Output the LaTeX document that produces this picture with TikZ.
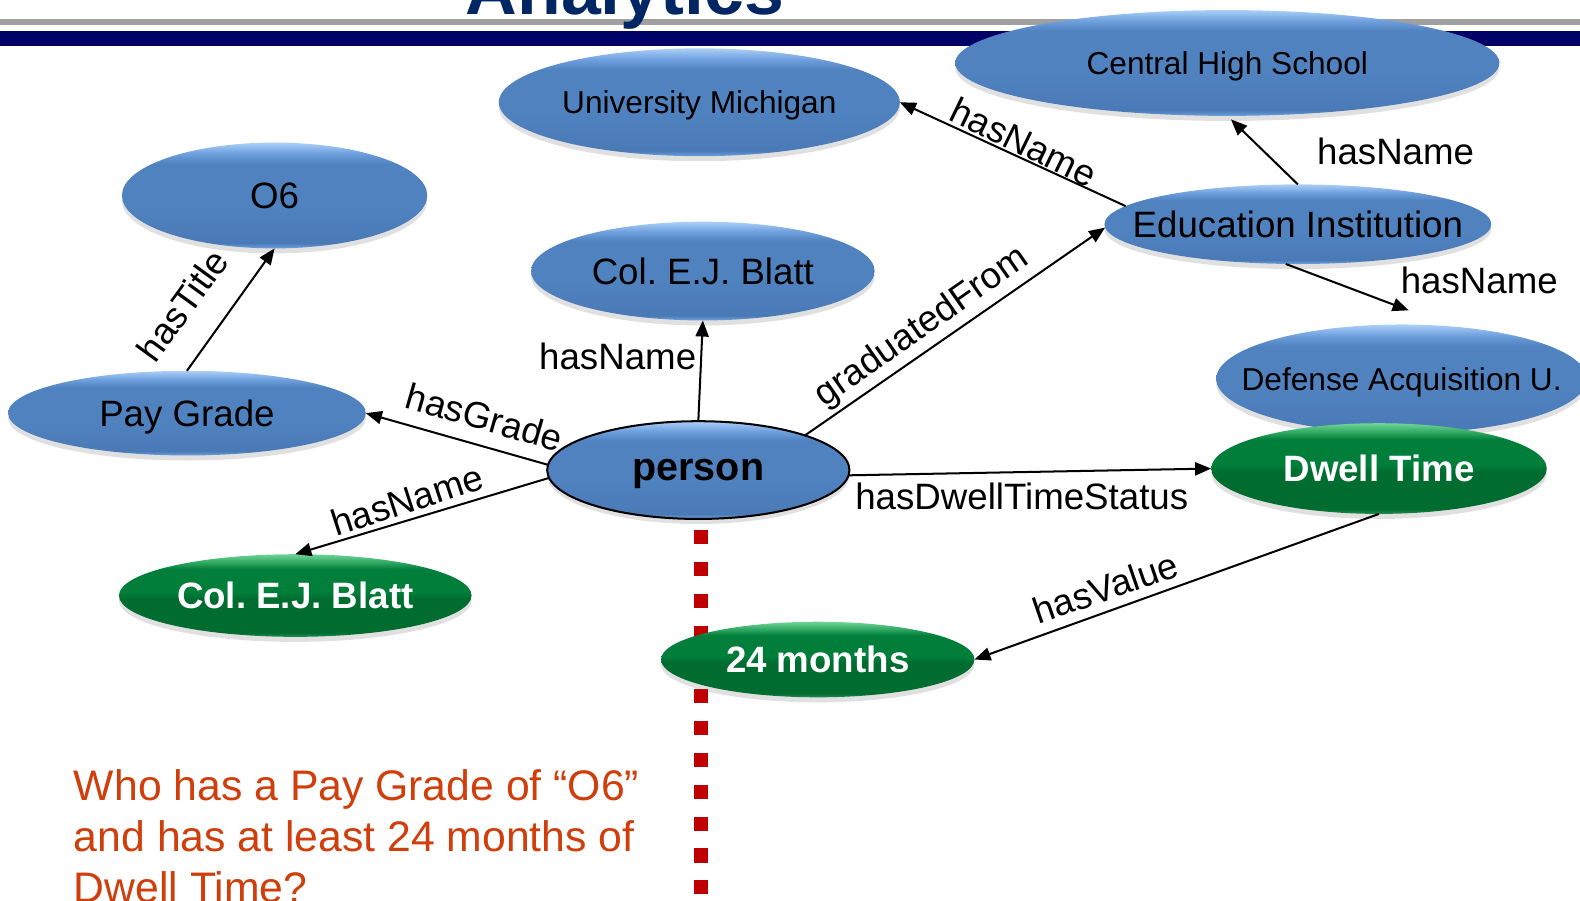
\documentclass[tikz,border=0pt]{standalone}
\usepackage{fontspec}
\setmainfont{Liberation Sans}
\usetikzlibrary{shapes.geometric,arrows.meta,shadows}
\frenchspacing

% palette
\definecolor{headgray}{RGB}{160,160,160}
\definecolor{headnavy}{RGB}{0,0,102}
\definecolor{titleblue}{RGB}{0,38,100}
\definecolor{divred}{RGB}{192,0,0}
\definecolor{qred}{RGB}{208,62,12}
\definecolor{bluetop}{RGB}{170,208,248}
\definecolor{bluehi}{RGB}{112,160,222}
\definecolor{bluemid}{RGB}{80,130,192}
\definecolor{bluelow}{RGB}{74,122,182}
\definecolor{bluerim}{RGB}{112,162,224}
\definecolor{greentop}{RGB}{112,212,152}
\definecolor{greenhi}{RGB}{48,168,98}
\definecolor{greenmid}{RGB}{0,126,58}
\definecolor{greenlow}{RGB}{0,108,48}
\definecolor{greenrim}{RGB}{34,142,78}

% glossy fills for the ellipses
\pgfdeclareverticalshading{bluegloss}{100bp}{color(0bp)=(bluerim); color(25bp)=(bluerim); color(27.5bp)=(bluelow); color(45bp)=(bluemid); color(65bp)=(bluemid); color(70bp)=(bluehi); color(75bp)=(bluetop); color(100bp)=(bluetop)}
\pgfdeclareverticalshading{greengloss}{100bp}{color(0bp)=(greenrim); color(25bp)=(greenrim); color(27.5bp)=(greenlow); color(48bp)=(greenlow); color(52bp)=(greenmid); color(66bp)=(greenmid); color(70bp)=(greenhi); color(75bp)=(greentop); color(100bp)=(greentop)}

% font sizes
\newcommand\sizeS{\fontsize{15.7}{18}\selectfont}
\newcommand\sizeM{\fontsize{18.2}{21}\selectfont}
\newcommand\sizeP{\fontsize{19.6}{22}\selectfont}
\newcommand\sizeQ{\fontsize{21.2}{25.5}\selectfont}
\newcommand\sizeT{\fontsize{35.5}{40}\selectfont}
\newcommand\ctrtext[1]{\makebox[0pt][c]{#1}}

\begin{document}
\begin{tikzpicture}[x=0.5pt,y=-0.5pt,
  ball/.style={ellipse, inner sep=0pt, outer sep=0pt, draw=none, text depth=0pt,
    drop shadow={shadow xshift=0pt, shadow yshift=-2.5pt, opacity=0.2, fill=black!60}},
  blueball/.style={ball, shading=bluegloss, text=black, font=\sizeM},
  greenball/.style={ball, shading=greengloss, text=white, font=\sizeM\bfseries},
  rel/.style={line width=1pt, -{Triangle[length=8pt,width=6.5pt]}},
  lbl/.style={font=\sizeM, inner sep=0pt},
  divider/.style={draw=divred, line width=7pt, dash pattern=on 7pt off 8.8pt}
]
\useasboundingbox (0,0) rectangle (1568,894);
\begin{scope}
\clip (0,0) rectangle (1568,894);

% page header
\fill[headgray] (0,19) rectangle (1568,25);
\fill[headnavy] (0,31) rectangle (1568,46);
\node[font=\sizeT\bfseries, text=titleblue, anchor=base, inner sep=0pt] (title) at (620,14) {Analytics};

% vertical divider
\coordinate (divtop) at (696,526);
\coordinate (divbot) at (696,900);
\draw[divider] (divtop) -- (divbot);

% nodes
\node[blueball, font=\sizeS, minimum width=270pt, minimum height=52.5pt] (chs) at (1218,62.5) {Central High School};
\node[blueball, font=\sizeS, minimum width=199pt, minimum height=53.5pt] (um) at (694,101.5) {University Michigan};
\node[blueball, minimum width=151.5pt, minimum height=52.5pt] (o6) at (272.5,194) {O6};
\node[blueball, minimum width=170.5pt, minimum height=49pt] (blattb) at (697.5,269) {Col. E.J. Blatt};
\node[blueball, minimum width=192pt, minimum height=39.5pt] (edu) at (1288,222.5) {\ctrtext{Education Institution}};
\node[blueball, minimum width=177.5pt, minimum height=42pt] (pay) at (185.5,410) {Pay Grade};
\node[blueball, font=\sizeS, minimum width=184pt, minimum height=54pt] (dau) at (1391,376) {\ctrtext{Defense Acquisition U.}};
\node[blueball, draw=black, line width=1pt, font=\sizeP\bfseries, minimum width=150pt, minimum height=48.5pt] (person) at (693,466.5) {person};
\node[greenball, minimum width=166.5pt, minimum height=45pt] (dwell) at (1368.5,465) {Dwell Time};
\node[greenball, minimum width=175pt, minimum height=41pt] (blattg) at (293,591) {Col. E.J. Blatt};
\node[greenball, minimum width=155.5pt, minimum height=37.5pt] (months) at (811.5,654.5) {24 months};

% connectors
\coordinate (dautip) at (1398,308);
\draw[rel] (pay.north) -- (o6.south);
\draw[rel] (person.178) -- (pay.east);
\draw[rel] (person.183) -- (blattg.north);
\draw[rel] (person.north) -- (blattb.south);
\draw[rel] (person.18) -- (edu.181);
\draw[rel] (edu.174) -- (um.east);
\draw[rel, shorten >=2.5pt] (edu.north) -- (chs.south);
\draw[rel] (edu.253) -- (dautip);
\draw[rel] (person.-2) -- (dwell.west);
\draw[rel] (dwell.south) -- (months.east);

% connector labels
\node[lbl, rotate=54] (lTitle) at (181,303) {hasTitle};
\node[lbl, rotate=-16] (lGrade) at (481,414) {hasGrade};
\node[lbl, rotate=18] (lNameG) at (404,496) {hasName};
\node[lbl] (lNameB) at (613,354) {hasName};
\node[lbl, rotate=35] (lFrom) at (915,325) {graduatedFrom};
\node[lbl, rotate=-26] (lNameU) at (1016,141) {hasName};
\node[lbl] (lNameC) at (1385,150) {hasName};
\node[lbl] (lNameD) at (1468,278) {hasName};
\node[lbl] (lDwell) at (1014,493) {hasDwellTimeStatus};
\node[lbl, rotate=19] (lValue) at (1097,583) {hasValue};

% query
\node[font=\sizeQ, text=qred, align=left, anchor=north west, inner sep=0pt] (query) at (73,763)
  {Who has a Pay Grade of “O6”\\and has at least 24 months of\\Dwell Time?};
\end{scope}
\end{tikzpicture}
\end{document}
